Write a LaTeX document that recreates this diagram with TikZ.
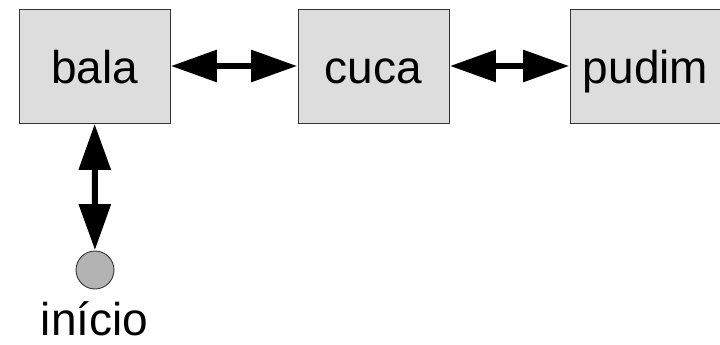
\documentclass[tikz,border=0pt]{standalone}
\usepackage{fontspec}
\setmainfont{Liberation Sans}
\usetikzlibrary{arrows.meta}
\definecolor{boxfill}{HTML}{DDDDDD}
\definecolor{dotfill}{HTML}{B3B3B3}
\definecolor{edge}{HTML}{333333}
\tikzset{
  statebox/.style={draw=edge, line width=0.9pt, fill=boxfill, rectangle,
    minimum width=151pt, minimum height=114pt, inner sep=0pt,
    font=\fontsize{46}{50}\selectfont, text height=34pt, text depth=0pt},
  startdot/.style={draw=edge, line width=0.9pt, fill=dotfill, circle,
    minimum size=38pt, inner sep=0pt},
  biarrow/.style={line width=6pt, {Triangle[length=46pt,width=31pt]}-{Triangle[length=46pt,width=31pt]}, shorten <=0.5pt, shorten >=0.5pt},
  lbl/.style={font=\fontsize{46}{50}\selectfont, inner sep=0pt, anchor=base}
}
\begin{document}
\begin{tikzpicture}[x=1pt,y=-1pt]
\useasboundingbox (0,0) rectangle (720,345);
\node[statebox] (bala) at (94.5,66) {bala};
\node[statebox] (cuca) at (373.5,66) {cuca};
\node[statebox] (pudim) at (645.5,66) {pudim};
\node[startdot] (inicio) at (95,270) {};
\node[lbl] (inicioLabel) at (94.5,335.5) {início};
\draw[biarrow] (bala) -- (cuca);
\draw[biarrow] (cuca) -- (pudim);
\draw[biarrow] (bala) -- (inicio);
\end{tikzpicture}
\end{document}
